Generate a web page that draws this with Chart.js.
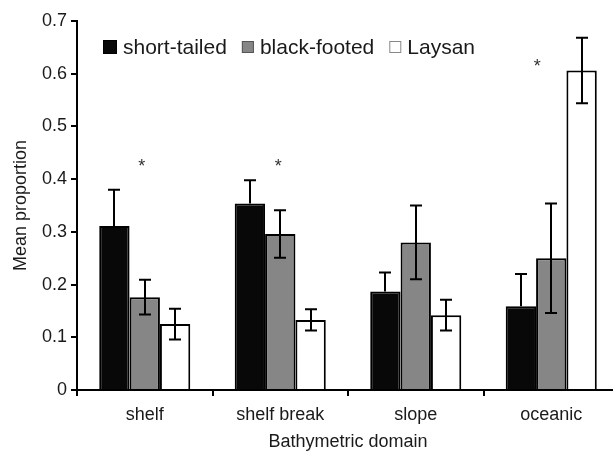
<!DOCTYPE html>
<html>
<head>
<meta charset="utf-8">
<script src="https://cdn.jsdelivr.net/npm/chart.js@4.4.1/dist/chart.umd.min.js"></script>
<style>
  html, body { margin: 0; padding: 0; background: #fff; overflow: hidden; }
</style>
</head>
<body>
<canvas id="chart" width="625" height="453"></canvas>
<script>
// values
const domains = ['shelf', 'shelf break', 'slope', 'oceanic'];
const shortTailed = [0.311, 0.354, 0.187, 0.159];
const shortTailedErr = [0.069, 0.044, 0.036, 0.061];
const blackFooted = [0.176, 0.296, 0.280, 0.250];
const blackFootedErr = [0.033, 0.045, 0.070, 0.104];
const laysan = [0.125, 0.133, 0.142, 0.606];
const laysanErr = [0.029, 0.020, 0.029, 0.062];
const yTickLabels = ['0', '0.1', '0.2', '0.3', '0.4', '0.5', '0.6', '0.7'];
// significance marks
const starDomains = ['shelf', 'shelf break', 'oceanic'];
const starValues = [0.43, 0.43, 0.62];

const FONT = 'Liberation Sans, Arial, sans-serif';
const TEXT = '#1a1a1a';

// legend sits inside the plot area, so draw it by hand from the datasets
const insideLegend = {
    id: 'insideLegend',
    afterDraw(chart, args, opts) {
        const ctx = chart.ctx;
        ctx.save();
        ctx.font = opts.fontSize + 'px ' + FONT;
        ctx.textBaseline = 'middle';
        let x = opts.x;
        chart.data.datasets.forEach((ds, i) => {
            const s = opts.boxSizes[i];
            ctx.fillStyle = ds.backgroundColor;
            ctx.fillRect(x, opts.y - s / 2, s, s);
            ctx.strokeStyle = opts.boxBorders[i];
            ctx.lineWidth = 1;
            ctx.strokeRect(x + 0.5, opts.y - s / 2 + 0.5, s - 1, s - 1);
            x += s + 6;
            ctx.fillStyle = TEXT;
            ctx.fillText(ds.label, x, opts.y + 1);
            x += ctx.measureText(ds.label).width + opts.gap;
        });
        ctx.restore();
    }
};

// the lower whisker of the black bars vanishes into the fill, so it is left out
const errorBars = {
    id: 'errorBars',
    afterDatasetsDraw(chart, args, opts) {
        const ctx = chart.ctx;
        const y = chart.scales.y;
        ctx.save();
        ctx.strokeStyle = '#000';
        ctx.lineWidth = 2;
        chart.data.datasets.forEach((ds, di) => {
            const upperOnly = opts.upperOnly.includes(di);
            chart.getDatasetMeta(di).data.forEach((bar, i) => {
                const v = ds.data[i], e = ds.errors[i];
                const top = y.getPixelForValue(v + e);
                const bot = upperOnly ? y.getPixelForValue(v) : y.getPixelForValue(v - e);
                const cx = Math.round(bar.x);
                ctx.beginPath();
                ctx.moveTo(cx, top); ctx.lineTo(cx, bot);
                ctx.moveTo(cx - opts.cap, top); ctx.lineTo(cx + opts.cap, top);
                if (!upperOnly) {
                    ctx.moveTo(cx - opts.cap, bot); ctx.lineTo(cx + opts.cap, bot);
                }
                ctx.stroke();
            });
        });
        ctx.restore();
    }
};

const stars = {
    id: 'stars',
    afterDraw(chart, args, opts) {
        const ctx = chart.ctx;
        ctx.save();
        ctx.font = '18px ' + FONT;
        ctx.fillStyle = '#333';
        ctx.textAlign = 'center';
        ctx.textBaseline = 'middle';
        starDomains.forEach((d, i) => {
            const px = chart.scales.x.getPixelForValue(domains.indexOf(d)) + opts.nudge[i];
            const py = chart.scales.y.getPixelForValue(starValues[i]);
            ctx.fillText('*', px, py + 4);
        });
        ctx.restore();
    }
};

new Chart(document.getElementById('chart'), {
    type: 'bar',
    data: {
        labels: domains,
        datasets: [
            { label: 'short-tailed', data: shortTailed, errors: shortTailedErr, backgroundColor: '#080808' },
            { label: 'black-footed', data: blackFooted, errors: blackFootedErr, backgroundColor: '#868686' },
            { label: 'Laysan', data: laysan, errors: laysanErr, backgroundColor: '#ffffff' }
        ].map(ds => Object.assign(ds, {
            borderColor: '#000',
            borderWidth: 2,
            barPercentage: 1,
            categoryPercentage: 0.672
        }))
    },
    options: {
        responsive: false,
        animation: false,
        layout: { padding: { top: 21, right: 6, left: 0, bottom: 0 } },
        plugins: {
            legend: { display: false },
            tooltip: { enabled: false },
            insideLegend: { x: 103, y: 47, fontSize: 21, gap: 15, boxSizes: [14, 12, 12], boxBorders: ['#000', '#555', '#888'] },
            errorBars: { cap: 6, upperOnly: [0] },
            stars: { nudge: [-3, -2, -14] }
        },
        scales: {
            x: {
                offset: true,
                grid: { offset: true, drawOnChartArea: false, tickLength: 6, color: '#000', lineWidth: 2 },
                border: { color: '#000', width: 2 },
                ticks: { color: TEXT, font: { family: FONT, size: 18 }, padding: 8 },
                title: { display: true, text: 'Bathymetric domain', color: TEXT, font: { family: FONT, size: 18 }, padding: { top: 0, bottom: 0 } },
                afterFit(scale) { scale.height = 63; }
            },
            y: {
                min: 0,
                max: 0.7,
                grid: { drawOnChartArea: false, tickLength: 6, color: '#000', lineWidth: 2 },
                border: { color: '#000', width: 2 },
                ticks: {
                    stepSize: 0.1,
                    padding: 4,
                    color: TEXT,
                    font: { family: FONT, size: 18 },
                    callback: (v, i) => yTickLabels[i]
                },
                title: { display: true, text: 'Mean proportion', color: TEXT, font: { family: FONT, size: 18 }, padding: { top: 10, bottom: 0 } },
                afterFit(scale) { scale.width = 77; }
            }
        }
    },
    plugins: [errorBars, insideLegend, stars]
});
</script>
</body>
</html>
